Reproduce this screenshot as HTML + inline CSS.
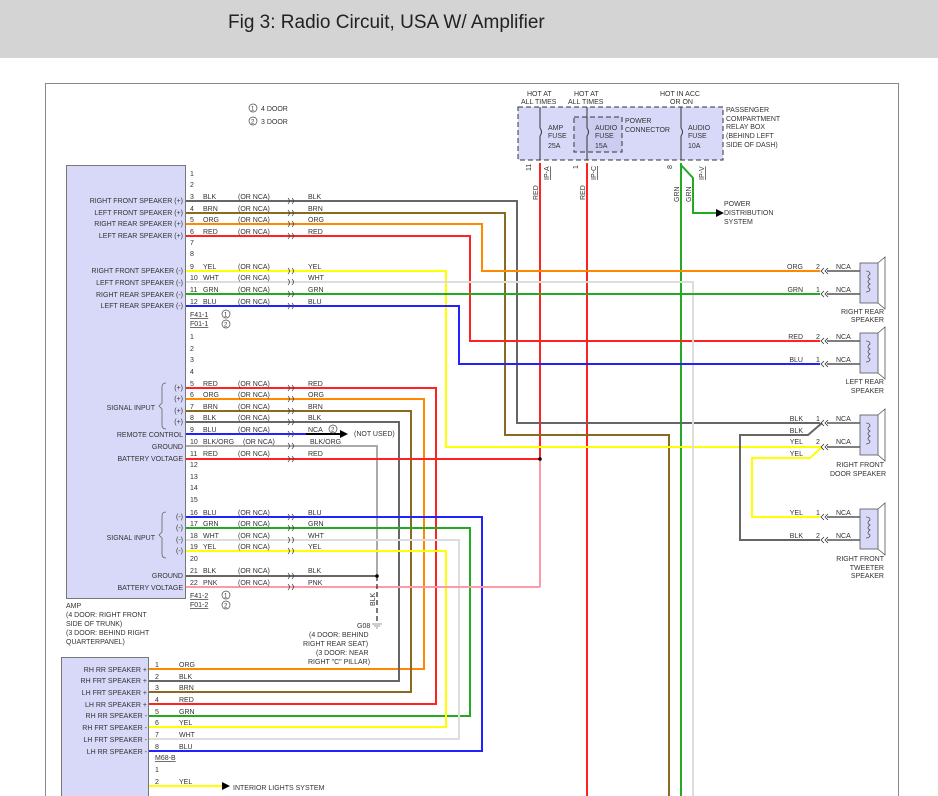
<!DOCTYPE html>
<html><head><meta charset="utf-8"><style>
body{margin:0;background:#fff;}
svg{display:block;font-family:"Liberation Sans",sans-serif;}
text{font-size:7px;fill:#333;}
</style></head><body>
<svg width="938" height="796" viewBox="0 0 938 796" xmlns="http://www.w3.org/2000/svg">
<rect x="0" y="0" width="938" height="58" fill="#d4d4d4"/>
<text x="228" y="28" style="font-size:19px;fill:#222">Fig 3: Radio Circuit, USA W/ Amplifier</text>
<rect x="45.5" y="83.5" width="853" height="720" fill="none" stroke="#888"/>
<!-- legend -->
<circle cx="253" cy="108" r="4" fill="none" stroke="#444" stroke-width="0.7"/><text x="251" y="110.5" style="font-size:6px">1</text><text x="261" y="111">4 DOOR</text>
<circle cx="253" cy="121" r="4" fill="none" stroke="#444" stroke-width="0.7"/><text x="251" y="123.5" style="font-size:6px">2</text><text x="261" y="124">3 DOOR</text>
<!-- fuse box -->
<rect x="518" y="107" width="205" height="53" fill="#d8d8f8" stroke="#333" stroke-dasharray="5,3"/>
<rect x="574" y="117" width="48" height="35" fill="#ccccf0" stroke="#333" stroke-dasharray="5,3"/>
<g stroke="#333" stroke-width="1" fill="none">
<path d="M540 107V128 q3 4 0 8V160M587 107V128 q3 4 0 8V160M681 107V128 q3 4 0 8V160"/>
</g>
<text x="527" y="96">HOT AT</text><text x="521" y="104">ALL TIMES</text>
<text x="574" y="96">HOT AT</text><text x="568" y="104">ALL TIMES</text>
<text x="660" y="96">HOT IN ACC</text><text x="670" y="104">OR ON</text>
<text x="548" y="130">AMP</text><text x="548" y="138">FUSE</text><text x="548" y="148">25A</text>
<text x="595" y="130">AUDIO</text><text x="595" y="138">FUSE</text><text x="595" y="148">15A</text>
<text x="625" y="123">POWER</text><text x="625" y="132">CONNECTOR</text>
<text x="688" y="130">AUDIO</text><text x="688" y="138">FUSE</text><text x="688" y="148">10A</text>
<text x="726" y="112">PASSENGER</text><text x="726" y="121">COMPARTMENT</text><text x="726" y="129">RELAY BOX</text><text x="726" y="138">(BEHIND LEFT</text><text x="726" y="147">SIDE OF DASH)</text>
<text x="531" y="171" transform="rotate(-90 531 171)">11</text><text x="578" y="169" transform="rotate(-90 578 169)">1</text><text x="672" y="169" transform="rotate(-90 672 169)">8</text>
<text x="549" y="180" transform="rotate(-90 549 180)" style="text-decoration:underline">IP-A</text>
<text x="596" y="180" transform="rotate(-90 596 180)" style="text-decoration:underline">IP-C</text>
<text x="704" y="180" transform="rotate(-90 704 180)" style="text-decoration:underline">IP-V</text>
<text x="538" y="200" transform="rotate(-90 538 200)">RED</text><text x="585" y="200" transform="rotate(-90 585 200)">RED</text>
<text x="679" y="202" transform="rotate(-90 679 202)">GRN</text><text x="691" y="202" transform="rotate(-90 691 202)">GRN</text>
<text x="724" y="206">POWER</text><text x="724" y="215">DISTRIBUTION</text><text x="724" y="224">SYSTEM</text>
<!-- wires -->
<g fill="none" stroke-width="2">
<path d="M540 163V459" stroke="#f22"/>
<path d="M587 163V796" stroke="#f22"/>
<path d="M681 163V796" stroke="#2a2"/>
<path d="M681 165L693 178V213H716" stroke="#2a2"/>
<path d="M540 459V587" stroke="#f9a"/>
<path d="M186 201H517V423H820" stroke="#666"/>
<path d="M186 213H505V435H669V796" stroke="#8a6a20"/>
<path d="M186 224H482V271H820" stroke="#f80"/>
<path d="M186 236H470V341H820" stroke="#f22"/>
<path d="M186 271H446V447H820" stroke="#ff0"/>
<path d="M186 282H693V796" stroke="#ddd"/>
<path d="M186 294H820" stroke="#2a2"/>
<path d="M186 306H459V364H820" stroke="#22f"/>
<path d="M822 423L808 435H740V540H820" stroke="#666"/>
<path d="M822 447L810 458H752V517H820" stroke="#ff0"/>
<path d="M186 388H436V704H149" stroke="#f22"/>
<path d="M186 399H424V669H149" stroke="#f80"/>
<path d="M186 411H411V692H149" stroke="#8a6a20"/>
<path d="M186 422H399V681H149" stroke="#666"/>
<path d="M186 434H306" stroke="#22f"/>
<path d="M306 434H340" stroke="#000"/>
<path d="M186 446H377V576" stroke="#aaa"/>
<path d="M186 459H540" stroke="#f22"/>
<path d="M186 517H482V751H149" stroke="#22f"/>
<path d="M186 528H470V716H149" stroke="#2a2"/>
<path d="M186 540H459V739H149" stroke="#ddd"/>
<path d="M186 551H446V727H149" stroke="#ff0"/>
<path d="M186 576H377" stroke="#666"/>
<path d="M186 587H540" stroke="#f9a"/>
<path d="M149 786H222" stroke="#ff0"/>
</g>
<path d="M377 576V622" stroke="#333" stroke-width="1.3" stroke-dasharray="5,3"/>
<circle cx="377" cy="576" r="1.8" fill="#000"/><circle cx="540" cy="459" r="1.8" fill="#000"/>
<path d="M372 624h10M374 626h6M376 628h2" stroke="#999"/>
<polygon points="340,430 348,434 340,438" fill="#000"/>
<polygon points="716,209 724,213 716,217" fill="#000"/>
<polygon points="222,782 230,786 222,790" fill="#000"/>
<text x="375" y="606" transform="rotate(-90 375 606)">BLK</text>
<text x="357" y="628">G08</text>
<text x="309" y="637">(4 DOOR: BEHIND</text><text x="303" y="646">RIGHT REAR SEAT)</text><text x="316" y="655">(3 DOOR: NEAR</text><text x="308" y="664">RIGHT "C" PILLAR)</text>
<text x="354" y="436">(NOT USED)</text>
<circle cx="333" cy="429" r="4" fill="none" stroke="#444" stroke-width="0.7"/><text x="331" y="431.5" style="font-size:6px">2</text>
<!-- AMP box -->
<rect x="66.5" y="165.5" width="119" height="433" fill="#d8d8f8" stroke="#777"/>
<g id="amplabels" text-anchor="end">
<text x="183" y="203">RIGHT FRONT SPEAKER (+)</text><text x="183" y="215">LEFT FRONT SPEAKER (+)</text><text x="183" y="226">RIGHT REAR SPEAKER (+)</text><text x="183" y="238">LEFT REAR SPEAKER (+)</text>
<text x="183" y="273">RIGHT FRONT SPEAKER (-)</text><text x="183" y="285">LEFT FRONT SPEAKER (-)</text><text x="183" y="297">RIGHT REAR SPEAKER (-)</text><text x="183" y="308">LEFT REAR SPEAKER (-)</text>
<text x="183" y="390">(+)</text><text x="183" y="401">(+)</text><text x="183" y="413">(+)</text><text x="183" y="424">(+)</text>
<text x="155" y="410">SIGNAL INPUT</text>
<text x="183" y="437">REMOTE CONTROL</text><text x="183" y="449">GROUND</text><text x="183" y="461">BATTERY VOLTAGE</text>
<text x="183" y="519">(-)</text><text x="183" y="530">(-)</text><text x="183" y="542">(-)</text><text x="183" y="553">(-)</text>
<text x="155" y="540">SIGNAL INPUT</text>
<text x="183" y="578">GROUND</text><text x="183" y="590">BATTERY VOLTAGE</text>
</g>
<path d="M166 383q-4 0-4 4v16l-3 3 3 3v16q0 4 4 4M166 512q-4 0-4 4v16l-3 3 3 3v16q0 4 4 4" fill="none" stroke="#666" stroke-width="0.8"/>
<text x="66" y="608">AMP</text><text x="66" y="617">(4 DOOR: RIGHT FRONT</text><text x="66" y="626">SIDE OF TRUNK)</text><text x="66" y="635">(3 DOOR: BEHIND RIGHT</text><text x="66" y="644">QUARTERPANEL)</text>
<g>
<text x="190" y="176">1</text><text x="190" y="187">2</text><text x="190" y="245">7</text><text x="190" y="256">8</text>
<text x="190" y="199">3</text><text x="203" y="199">BLK</text><text x="238" y="199">(OR NCA)</text><text x="308" y="199">BLK</text>
<text x="190" y="211">4</text><text x="203" y="211">BRN</text><text x="238" y="211">(OR NCA)</text><text x="308" y="211">BRN</text>
<text x="190" y="222">5</text><text x="203" y="222">ORG</text><text x="238" y="222">(OR NCA)</text><text x="308" y="222">ORG</text>
<text x="190" y="234">6</text><text x="203" y="234">RED</text><text x="238" y="234">(OR NCA)</text><text x="308" y="234">RED</text>
<text x="190" y="269">9</text><text x="203" y="269">YEL</text><text x="238" y="269">(OR NCA)</text><text x="308" y="269">YEL</text>
<text x="190" y="280">10</text><text x="203" y="280">WHT</text><text x="238" y="280">(OR NCA)</text><text x="308" y="280">WHT</text>
<text x="190" y="292">11</text><text x="203" y="292">GRN</text><text x="238" y="292">(OR NCA)</text><text x="308" y="292">GRN</text>
<text x="190" y="304">12</text><text x="203" y="304">BLU</text><text x="238" y="304">(OR NCA)</text><text x="308" y="304">BLU</text>
<text x="190" y="317" style="text-decoration:underline">F41-1</text><circle cx="226" cy="314" r="4" fill="none" stroke="#444" stroke-width="0.7"/><text x="224" y="316.5" style="font-size:6px">1</text>
<text x="190" y="326" style="text-decoration:underline">F01-1</text><circle cx="226" cy="324" r="4" fill="none" stroke="#444" stroke-width="0.7"/><text x="224" y="326.5" style="font-size:6px">2</text>
<text x="190" y="339">1</text><text x="190" y="351">2</text><text x="190" y="362">3</text><text x="190" y="374">4</text>
<text x="190" y="386">5</text><text x="203" y="386">RED</text><text x="238" y="386">(OR NCA)</text><text x="308" y="386">RED</text>
<text x="190" y="397">6</text><text x="203" y="397">ORG</text><text x="238" y="397">(OR NCA)</text><text x="308" y="397">ORG</text>
<text x="190" y="409">7</text><text x="203" y="409">BRN</text><text x="238" y="409">(OR NCA)</text><text x="308" y="409">BRN</text>
<text x="190" y="420">8</text><text x="203" y="420">BLK</text><text x="238" y="420">(OR NCA)</text><text x="308" y="420">BLK</text>
<text x="190" y="432">9</text><text x="203" y="432">BLU</text><text x="238" y="432">(OR NCA)</text><text x="308" y="432">NCA</text>
<text x="190" y="444">10</text><text x="203" y="444">BLK/ORG</text><text x="243" y="444">(OR NCA)</text><text x="310" y="444">BLK/ORG</text>
<text x="190" y="456">11</text><text x="203" y="456">RED</text><text x="238" y="456">(OR NCA)</text><text x="308" y="456">RED</text>
<text x="190" y="467">12</text><text x="190" y="479">13</text><text x="190" y="490">14</text><text x="190" y="502">15</text><text x="190" y="561">20</text>
<text x="190" y="515">16</text><text x="203" y="515">BLU</text><text x="238" y="515">(OR NCA)</text><text x="308" y="515">BLU</text>
<text x="190" y="526">17</text><text x="203" y="526">GRN</text><text x="238" y="526">(OR NCA)</text><text x="308" y="526">GRN</text>
<text x="190" y="538">18</text><text x="203" y="538">WHT</text><text x="238" y="538">(OR NCA)</text><text x="308" y="538">WHT</text>
<text x="190" y="549">19</text><text x="203" y="549">YEL</text><text x="238" y="549">(OR NCA)</text><text x="308" y="549">YEL</text>
<text x="190" y="573">21</text><text x="203" y="573">BLK</text><text x="238" y="573">(OR NCA)</text><text x="308" y="573">BLK</text>
<text x="190" y="585">22</text><text x="203" y="585">PNK</text><text x="238" y="585">(OR NCA)</text><text x="308" y="585">PNK</text>
<text x="190" y="598" style="text-decoration:underline">F41-2</text><circle cx="226" cy="595" r="4" fill="none" stroke="#444" stroke-width="0.7"/><text x="224" y="597.5" style="font-size:6px">1</text>
<text x="190" y="607" style="text-decoration:underline">F01-2</text><circle cx="226" cy="605" r="4" fill="none" stroke="#444" stroke-width="0.7"/><text x="224" y="607.5" style="font-size:6px">2</text>
</g>
<!-- connector glyphs -->
<g fill="none" stroke="#444" stroke-width="0.8" id="cj">
<path d="M288 198q3 3 0 6M292 198q3 3 0 6M288 210q3 3 0 6M292 210q3 3 0 6M288 221q3 3 0 6M292 221q3 3 0 6M288 233q3 3 0 6M292 233q3 3 0 6M288 268q3 3 0 6M292 268q3 3 0 6M288 279q3 3 0 6M292 279q3 3 0 6M288 291q3 3 0 6M292 291q3 3 0 6M288 303q3 3 0 6M292 303q3 3 0 6"/>
<path d="M288 385q3 3 0 6M292 385q3 3 0 6M288 396q3 3 0 6M292 396q3 3 0 6M288 408q3 3 0 6M292 408q3 3 0 6M288 419q3 3 0 6M292 419q3 3 0 6M288 431q3 3 0 6M292 431q3 3 0 6M288 443q3 3 0 6M292 443q3 3 0 6M288 456q3 3 0 6M292 456q3 3 0 6M288 514q3 3 0 6M292 514q3 3 0 6M288 525q3 3 0 6M292 525q3 3 0 6M288 537q3 3 0 6M292 537q3 3 0 6M288 548q3 3 0 6M292 548q3 3 0 6M288 573q3 3 0 6M292 573q3 3 0 6M288 584q3 3 0 6M292 584q3 3 0 6"/>
</g>
<!-- speakers -->
<g>
<text x="803" y="269" text-anchor="end">ORG</text><text x="816" y="269">2</text><text x="836" y="269">NCA</text>
<text x="803" y="292" text-anchor="end">GRN</text><text x="816" y="292">1</text><text x="836" y="292">NCA</text>
<text x="803" y="339" text-anchor="end">RED</text><text x="816" y="339">2</text><text x="836" y="339">NCA</text>
<text x="803" y="362" text-anchor="end">BLU</text><text x="816" y="362">1</text><text x="836" y="362">NCA</text>
<text x="803" y="421" text-anchor="end">BLK</text><text x="816" y="421">1</text><text x="836" y="421">NCA</text>
<text x="803" y="433" text-anchor="end">BLK</text>
<text x="803" y="444" text-anchor="end">YEL</text><text x="816" y="444">2</text><text x="836" y="444">NCA</text>
<text x="803" y="456" text-anchor="end">YEL</text>
<text x="803" y="515" text-anchor="end">YEL</text><text x="816" y="515">1</text><text x="836" y="515">NCA</text>
<text x="803" y="538" text-anchor="end">BLK</text><text x="816" y="538">2</text><text x="836" y="538">NCA</text>
</g>
<g stroke="#333" stroke-width="1.3" fill="none">
<path d="M827 271H860M827 294H860M827 341H860M827 364H860M827 423H860M827 447H860M827 517H860M827 540H860"/>
<path d="M824 268l-3 3 3 3M828 268l-3 3 3 3M824 291l-3 3 3 3M828 291l-3 3 3 3M824 338l-3 3 3 3M828 338l-3 3 3 3M824 361l-3 3 3 3M828 361l-3 3 3 3M824 420l-3 3 3 3M828 420l-3 3 3 3M824 444l-3 3 3 3M828 444l-3 3 3 3M824 514l-3 3 3 3M828 514l-3 3 3 3M824 537l-3 3 3 3M828 537l-3 3 3 3" stroke-width="0.8"/>
</g>
<g fill="#d8d8f8" stroke="#555" stroke-width="0.8">
<rect x="860" y="263" width="18" height="40"/><path d="M878 263l7-6v52l-7-6" fill="none"/>
<rect x="860" y="333" width="18" height="40"/><path d="M878 333l7-6v52l-7-6" fill="none"/>
<rect x="860" y="415" width="18" height="40"/><path d="M878 415l7-6v52l-7-6" fill="none"/>
<rect x="860" y="509" width="18" height="40"/><path d="M878 509l7-6v52l-7-6" fill="none"/>
<path d="M866 271q4 0 4 3q-4 3 0 5q-4 3 0 5q-4 3 0 5q0 3-4 3M866 341q4 0 4 3q-4 3 0 5q-4 3 0 5q-4 3 0 5q0 3-4 3M866 423q4 0 4 3q-4 3 0 5q-4 3 0 5q-4 3 0 5q0 3-4 3M866 517q4 0 4 3q-4 3 0 5q-4 3 0 5q-4 3 0 5q0 3-4 3" fill="none"/>
</g>
<g text-anchor="end">
<text x="884" y="314">RIGHT REAR</text><text x="884" y="322">SPEAKER</text>
<text x="884" y="384">LEFT REAR</text><text x="884" y="393">SPEAKER</text>
<text x="884" y="467">RIGHT FRONT</text><text x="886" y="476">DOOR SPEAKER</text>
<text x="884" y="561">RIGHT FRONT</text><text x="884" y="570">TWEETER</text><text x="884" y="578">SPEAKER</text>
</g>
<!-- M68 box -->
<rect x="61.5" y="657.5" width="87" height="145" fill="#d8d8f8" stroke="#777"/>
<g text-anchor="end">
<text x="147" y="672">RH RR SPEAKER +</text><text x="147" y="683">RH FRT SPEAKER +</text><text x="147" y="695">LH FRT SPEAKER +</text><text x="147" y="707">LH RR SPEAKER +</text>
<text x="147" y="718">RH RR SPEAKER -</text><text x="147" y="730">RH FRT SPEAKER -</text><text x="147" y="742">LH FRT SPEAKER -</text><text x="147" y="754">LH RR SPEAKER -</text>
</g>
<text x="155" y="667">1</text><text x="179" y="667">ORG</text>
<text x="155" y="679">2</text><text x="179" y="679">BLK</text>
<text x="155" y="690">3</text><text x="179" y="690">BRN</text>
<text x="155" y="702">4</text><text x="179" y="702">RED</text>
<text x="155" y="714">5</text><text x="179" y="714">GRN</text>
<text x="155" y="725">6</text><text x="179" y="725">YEL</text>
<text x="155" y="737">7</text><text x="179" y="737">WHT</text>
<text x="155" y="749">8</text><text x="179" y="749">BLU</text>
<text x="155" y="760" style="text-decoration:underline">M68-B</text>
<text x="155" y="772">1</text><text x="155" y="784">2</text><text x="179" y="784">YEL</text>
<text x="233" y="790">INTERIOR LIGHTS SYSTEM</text>
</svg>
</body></html>
